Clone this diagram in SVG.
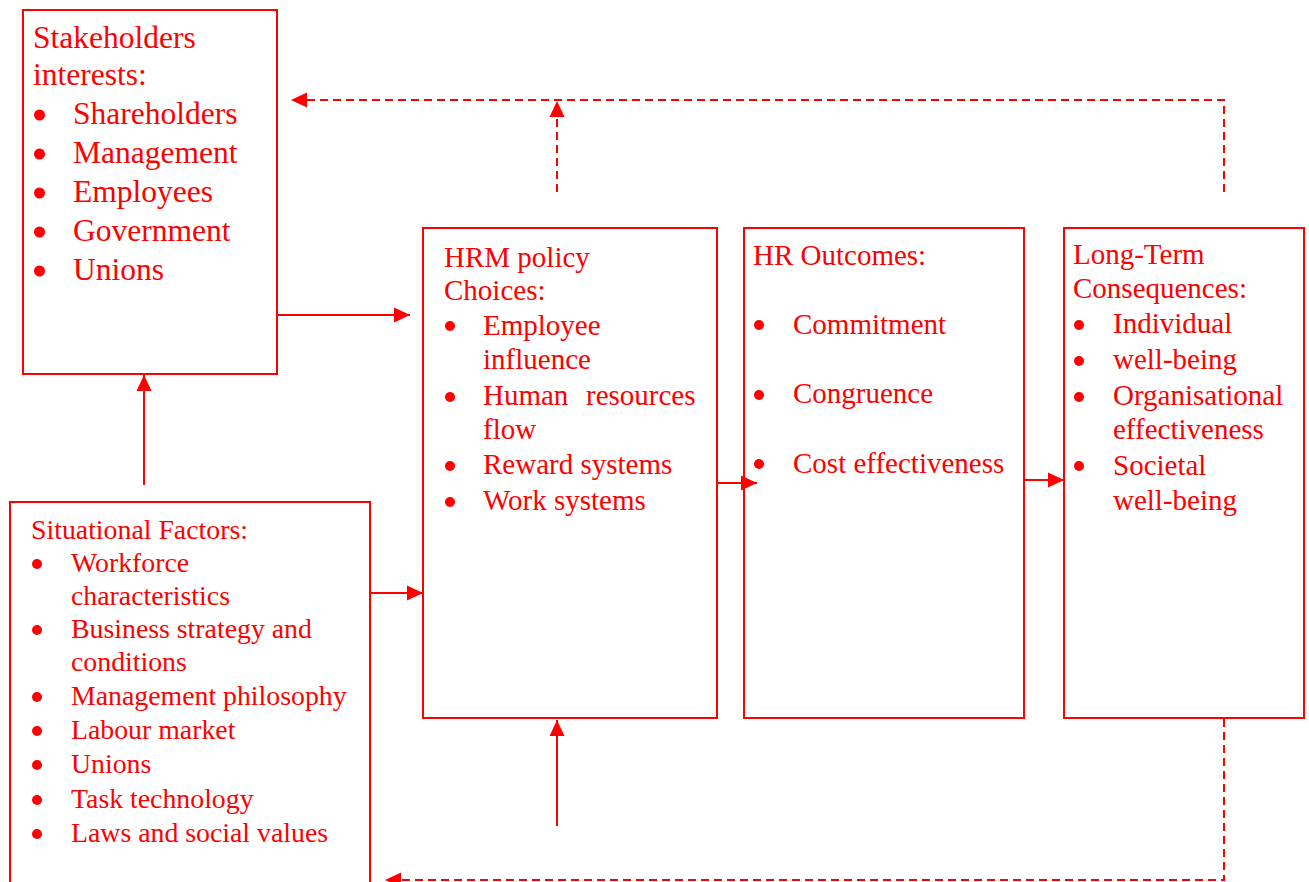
<svg xmlns="http://www.w3.org/2000/svg" width="1309" height="882" viewBox="0 0 1309 882">
  <style>
    .box { fill: #ffffff; stroke: #ff0000; stroke-width: 2; }
    .t { fill: #ff0000; font-family: "Liberation Serif", "Times New Roman", serif; }
    .big { font-size: 31.5px; }
    .mid { font-size: 29px; }
    .small { font-size: 27.8px; }
    .dot { fill: #ff0000; }
    .solid { fill: none; stroke: #ff0000; stroke-width: 2; }
    .dash { fill: none; stroke: #ff0000; stroke-width: 2; stroke-dasharray: 8 5; }
  </style>
  <defs>
    <marker id="arrow" viewBox="0 0 16 16" refX="16" refY="8" markerWidth="16" markerHeight="16" markerUnits="userSpaceOnUse" orient="auto">
      <path d="M0,0.5 L16,8 L0,15.5 z" fill="#ff0000"/>
    </marker>
  </defs>

  <rect width="1309" height="882" fill="#ffffff"/>

  <!-- Stakeholder interests -->
  <g id="stakeholders">
    <rect class="box" x="23" y="10" width="254" height="364"/>
    <text class="t big" x="33" y="48">Stakeholders</text>
    <text class="t big" x="33" y="85">interests:</text>
    <circle class="dot" cx="39.5" cy="115" r="5.5"/>
    <text class="t big" x="73" y="124">Shareholders</text>
    <circle class="dot" cx="39.5" cy="154" r="5.5"/>
    <text class="t big" x="73" y="163">Management</text>
    <circle class="dot" cx="39.5" cy="193" r="5.5"/>
    <text class="t big" x="73" y="202">Employees</text>
    <circle class="dot" cx="39.5" cy="232" r="5.5"/>
    <text class="t big" x="73" y="241">Government</text>
    <circle class="dot" cx="39.5" cy="271" r="5.5"/>
    <text class="t big" x="73" y="280">Unions</text>
  </g>

  <!-- Situational factors -->
  <g id="situational">
    <rect class="box" x="10" y="502" width="360" height="400"/>
    <text class="t small" x="31" y="539">Situational Factors:</text>
    <circle class="dot" cx="37" cy="564" r="5"/>
    <text class="t small" x="71" y="572">Workforce</text>
    <text class="t small" x="71" y="605">characteristics</text>
    <circle class="dot" cx="37" cy="630" r="5"/>
    <text class="t small" x="71" y="638">Business strategy and</text>
    <text class="t small" x="71" y="671">conditions</text>
    <circle class="dot" cx="37" cy="697" r="5"/>
    <text class="t small" x="71" y="705">Management philosophy</text>
    <circle class="dot" cx="37" cy="731" r="5"/>
    <text class="t small" x="71" y="739">Labour market</text>
    <circle class="dot" cx="37" cy="765" r="5"/>
    <text class="t small" x="71" y="773">Unions</text>
    <circle class="dot" cx="37" cy="800" r="5"/>
    <text class="t small" x="71" y="808">Task technology</text>
    <circle class="dot" cx="37" cy="834" r="5"/>
    <text class="t small" x="71" y="842">Laws and social values</text>
  </g>

  <!-- HRM policy choices -->
  <g id="hrm-policy">
    <rect class="box" x="423" y="228" width="294" height="490"/>
    <text class="t mid" x="444" y="267">HRM policy</text>
    <text class="t mid" x="444" y="300">Choices:</text>
    <circle class="dot" cx="450" cy="326" r="5"/>
    <text class="t mid" x="483" y="335">Employee</text>
    <text class="t mid" x="483" y="369">influence</text>
    <circle class="dot" cx="450" cy="397" r="5"/>
    <text class="t mid" x="483" y="405">Human<tspan x="586">resources</tspan></text>
    <text class="t mid" x="483" y="439">flow</text>
    <circle class="dot" cx="450" cy="466" r="5"/>
    <text class="t mid" x="483" y="474">Reward systems</text>
    <circle class="dot" cx="450" cy="502" r="5"/>
    <text class="t mid" x="483" y="510">Work systems</text>
  </g>

  <!-- HR outcomes -->
  <g id="hr-outcomes">
    <rect class="box" x="744" y="228" width="280" height="490"/>
    <text class="t mid" x="753" y="265">HR Outcomes:</text>
    <circle class="dot" cx="759" cy="325" r="5"/>
    <text class="t mid" x="793" y="334">Commitment</text>
    <circle class="dot" cx="759" cy="395" r="5"/>
    <text class="t mid" x="793" y="403">Congruence</text>
    <circle class="dot" cx="759" cy="464" r="5"/>
    <text class="t mid" x="793" y="473">Cost effectiveness</text>
  </g>

  <!-- Long-term consequences -->
  <g id="long-term">
    <rect class="box" x="1064" y="228" width="240" height="490"/>
    <text class="t mid" x="1073" y="264">Long-Term</text>
    <text class="t mid" x="1073" y="298">Consequences:</text>
    <circle class="dot" cx="1079" cy="325" r="5"/>
    <text class="t mid" x="1113" y="333">Individual</text>
    <circle class="dot" cx="1079" cy="361" r="5"/>
    <text class="t mid" x="1113" y="369">well-being</text>
    <circle class="dot" cx="1079" cy="397" r="5"/>
    <text class="t mid" x="1113" y="405">Organisational</text>
    <text class="t mid" x="1113" y="439">effectiveness</text>
    <circle class="dot" cx="1079" cy="466" r="5"/>
    <text class="t mid" x="1113" y="475">Societal</text>
    <text class="t mid" x="1113" y="510">well-being</text>
  </g>

  <!-- Connectors -->
  <g id="connectors">
    <path class="solid" d="M277,315 H410" marker-end="url(#arrow)"/>
    <path class="solid" d="M144,485 V375" marker-end="url(#arrow)"/>
    <path class="solid" d="M370,593 H423" marker-end="url(#arrow)"/>
    <path class="solid" d="M717,483 H757" marker-end="url(#arrow)"/>
    <path class="solid" d="M1024,480 H1064" marker-end="url(#arrow)"/>
    <path class="solid" d="M557,826 V720" marker-end="url(#arrow)"/>
    <path class="dash" d="M557,192 V101" marker-end="url(#arrow)"/>
    <path class="dash" d="M1224,192 V100 H291" marker-end="url(#arrow)"/>
    <path class="dash" d="M1224,719 V880 H385" marker-end="url(#arrow)"/>
  </g>
</svg>
